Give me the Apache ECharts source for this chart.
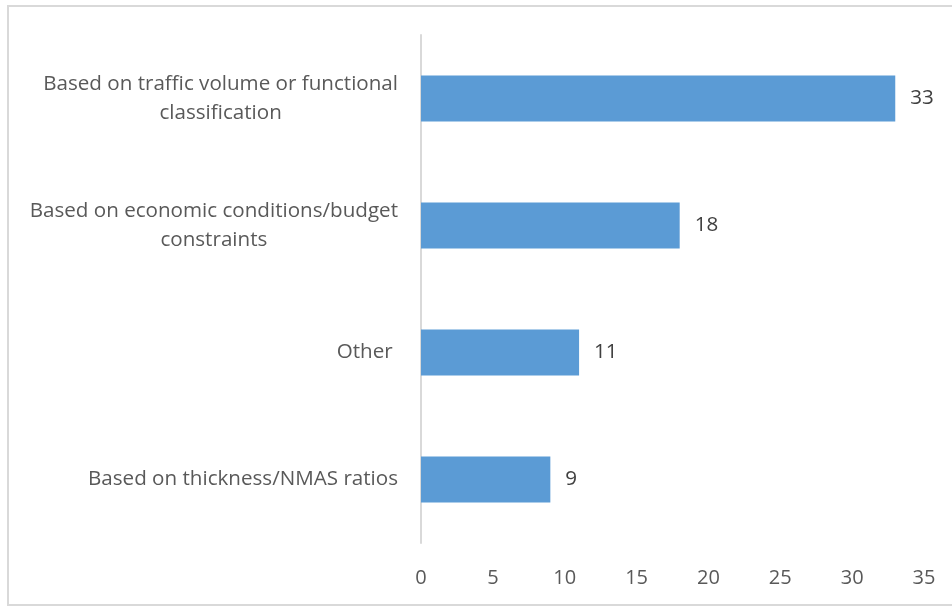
<!DOCTYPE html>
<html>
<head>
<meta charset="utf-8">
<script src="https://cdn.jsdelivr.net/npm/echarts@6/dist/echarts.min.js"></script>
<style>
  html, body { margin: 0; padding: 0; background: #ffffff; }
  #frame { position: absolute; left: 7px; top: 5px; width: 980px; height: 597px; border: 2px solid #d9d9d9; }
  #chart { position: absolute; left: 0; top: 0; width: 952px; height: 607px; }
</style>
</head>
<body>
<div id="frame"></div>
<div id="chart"></div>
<script>
// categories top to bottom, label lines split where the original wraps
var categories = [
  'Based on traffic volume or functional\nclassification',
  'Based on economic conditions/budget\nconstraints',
  'Other ',
  'Based on thickness/NMAS ratios'
]
var counts = [33, 18, 11, 9]
var xTicks = [0, 5, 10, 15, 20, 25, 30, 35]

var chart = echarts.init(document.getElementById('chart'))

chart.setOption({
  animation: false,
  grid: { left: 421, right: 28, top: 35, bottom: 64, containLabel: false },
  xAxis: {
    type: 'value',
    min: xTicks[0],
    max: xTicks[xTicks.length - 1],
    interval: 5,
    axisLine: { show: false },
    axisTick: { show: false },
    splitLine: { show: false },
    axisLabel: {
      margin: 25,
      color: '#595959',
      fontFamily: 'Open Sans',
      fontSize: 20
    }
  },
  yAxis: {
    type: 'category',
    inverse: true,
    data: categories,
    axisLine: { show: true, lineStyle: { color: '#d9d9d9', width: 2 } },
    axisTick: { show: false },
    axisLabel: {
      margin: 23,
      align: 'right',
      formatter: function (v) {
        return v.split('\n').map(function (l) { return '{c|' + l + '}' }).join('\n')
      },
      rich: {
        c: {
          align: 'center',
          color: '#595959',
          fontFamily: 'Open Sans',
          fontSize: 20.6,
          lineHeight: 29
        }
      }
    }
  },
  series: [{
    type: 'bar',
    data: counts,
    barWidth: 46,
    itemStyle: { color: '#5b9bd5' },
    label: {
      show: true,
      position: 'right',
      distance: 15,
      color: '#404040',
      fontFamily: 'Open Sans',
      fontSize: 20.6
    }
  }]
})
</script>
</body>
</html>
